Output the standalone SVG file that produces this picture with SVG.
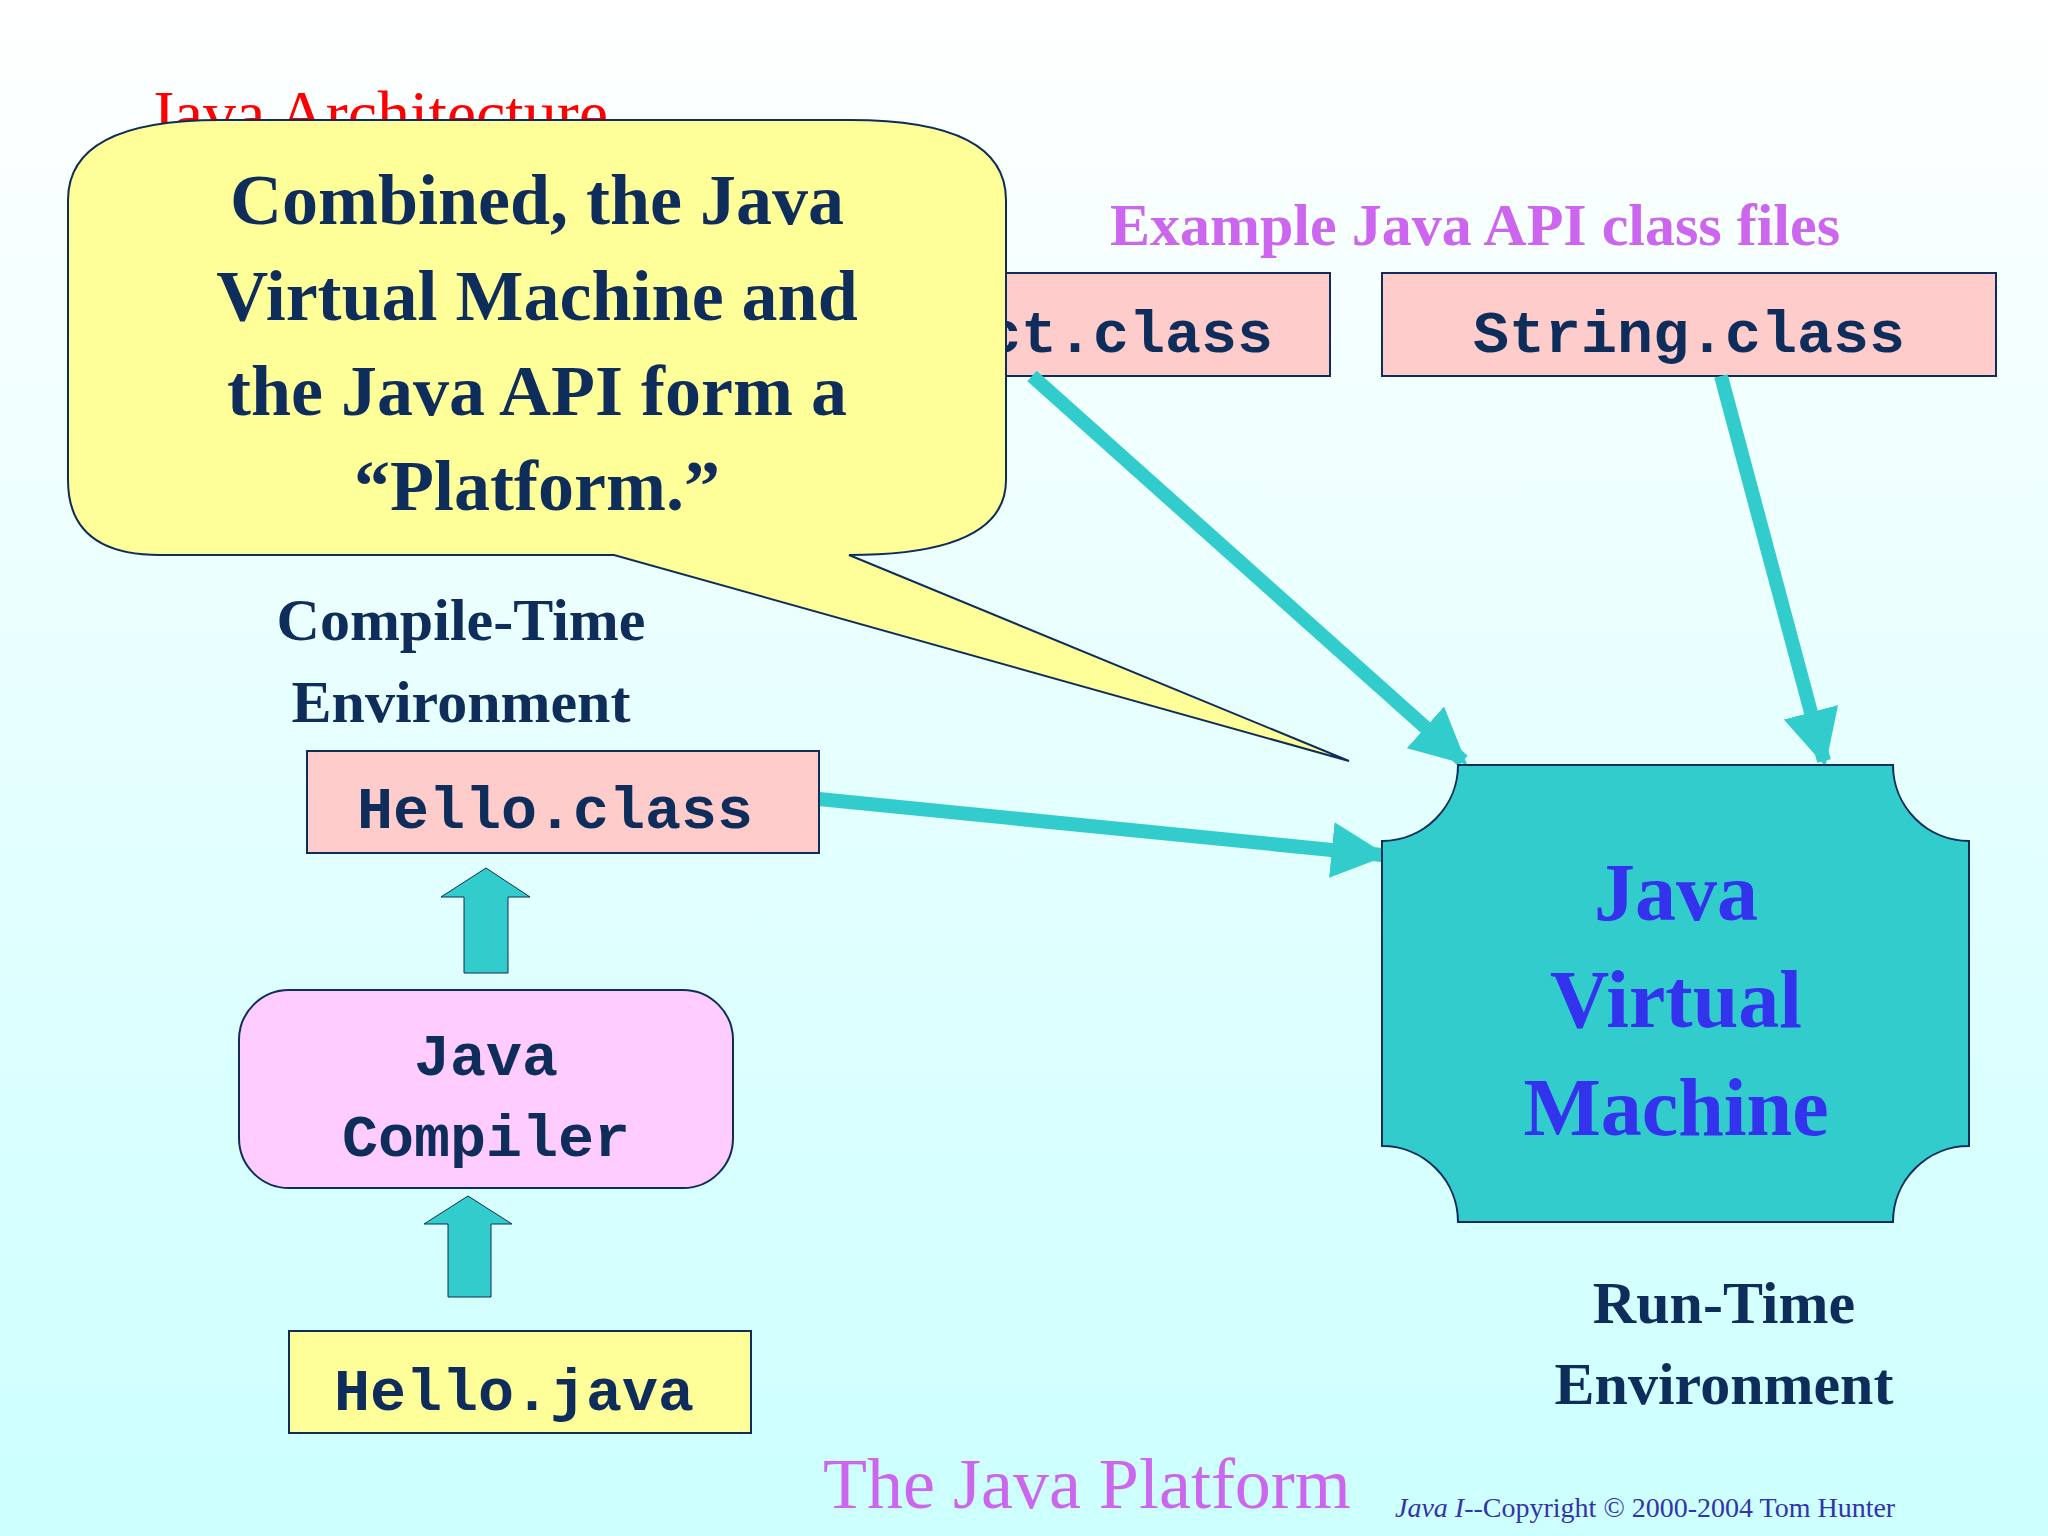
<svg xmlns="http://www.w3.org/2000/svg" width="2048" height="1536" viewBox="0 0 2048 1536">
<defs>
<linearGradient id="bg" x1="0" y1="0" x2="0" y2="1"><stop offset="0" stop-color="#ffffff"/><stop offset="1" stop-color="#ccffff"/></linearGradient>
<marker id="ah" viewBox="0 0 10 10" refX="9" refY="5" markerWidth="4" markerHeight="4" orient="auto" markerUnits="strokeWidth"><path d="M0,0 L10,5 L0,10 z" fill="#33cccc"/></marker>
<style>
.box{fill:#ffcccc;stroke:#0f2d5a;stroke-width:2}
.mono{font-family:"Liberation Mono",monospace;font-weight:bold;font-size:60px;fill:#0f2d5a}
.ser{font-family:"Liberation Serif",serif;font-weight:bold;fill:#0f2d5a}
.conn{stroke:#33cccc;stroke-width:14;fill:none;marker-end:url(#ah)}
</style>
</defs>
<rect width="2048" height="1536" fill="url(#bg)"/>
<text x="148" y="136" font-family="Liberation Serif,serif" font-size="66" fill="#ff0000">Java Architecture</text>
<text x="1475" y="245" text-anchor="middle" class="ser" font-size="60" fill="#cc66ee" style="fill:#cc66ee">Example Java API class files</text>
<g id="object"><rect class="box" x="784" y="273" width="546" height="103"/><text class="mono" x="1057" y="352" text-anchor="middle">Object.class</text></g>
<g id="string"><rect class="box" x="1382" y="273" width="614" height="103"/><text class="mono" x="1689" y="352" text-anchor="middle">String.class</text></g>
<g id="connectors">
<line class="conn" x1="1032" y1="376" x2="1463" y2="761"/>
<line class="conn" x1="1721" y1="376" x2="1824" y2="761"/>
<line class="conn" x1="819" y1="799" x2="1382" y2="855"/>
<path d="M464,973 V897 H441 L486,868 L530,897 H508 V973 Z" fill="#33cccc" stroke="#0f2d5a" stroke-width="1"/>
<path d="M448,1297 V1224 H424 L468,1196 L512,1224 H491 V1297 Z" fill="#33cccc" stroke="#0f2d5a" stroke-width="1"/>
</g>
<g id="callout">
<path d="M614,555 H160 Q68,555 68,480 V200 Q68,120 220,120 H850 Q1006,120 1006,200 V480 Q1006,555 849,555 L1349,761 Z" fill="#ffff99" stroke="#0f2d5a" stroke-width="2"/>
<text class="ser" font-size="72" text-anchor="middle"><tspan x="537" y="224">Combined, the Java</tspan><tspan x="537" y="320">Virtual Machine and</tspan><tspan x="537" y="415">the Java API form a</tspan><tspan x="537" y="510">“Platform.”</tspan></text>
</g>
<g id="jvm">
<path d="M1458,765 H1893 A76,76 0 0 0 1969,841 V1146 A76,76 0 0 0 1893,1222 H1458 A76,76 0 0 0 1382,1146 V841 A76,76 0 0 0 1458,765 Z" fill="#33cccc" stroke="#0f2d5a" stroke-width="2"/>
<text font-family="Liberation Serif,serif" font-weight="bold" font-size="82" fill="#3333ee" text-anchor="middle"><tspan x="1676" y="920">Java</tspan><tspan x="1676" y="1027">Virtual</tspan><tspan x="1676" y="1135">Machine</tspan></text>
</g>
<text class="ser" font-size="60" text-anchor="middle"><tspan x="461" y="640">Compile-Time</tspan><tspan x="461" y="722">Environment</tspan></text>
<g id="helloclass"><rect class="box" x="307" y="751" width="512" height="102"/><text class="mono" x="555" y="828" text-anchor="middle">Hello.class</text></g>
<g id="compiler"><rect x="239" y="990" width="494" height="198" rx="50" fill="#ffccff" stroke="#0f2d5a" stroke-width="2"/><text class="mono" text-anchor="middle"><tspan x="486" y="1075">Java</tspan><tspan x="486" y="1156">Compiler</tspan></text></g>
<g id="hellojava"><rect x="289" y="1331" width="462" height="102" fill="#ffff99" stroke="#0f2d5a" stroke-width="2"/><text class="mono" x="514" y="1410" text-anchor="middle">Hello.java</text></g>
<text class="ser" font-size="60" text-anchor="middle"><tspan x="1724" y="1323">Run-Time</tspan><tspan x="1724" y="1404">Environment</tspan></text>
<text x="823" y="1508" font-family="Liberation Serif,serif" font-size="72" fill="#cc66ee">The Java Platform</text>
<text x="1395" y="1517" font-family="Liberation Serif,serif" font-size="28" fill="#3333aa"><tspan font-style="italic">Java I</tspan>--Copyright © 2000-2004 Tom Hunter</text>
</svg>
